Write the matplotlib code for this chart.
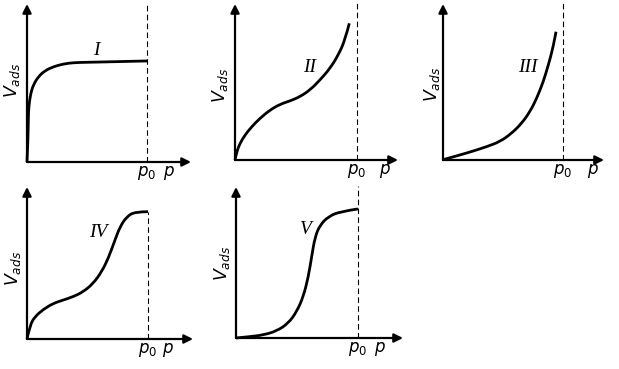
import matplotlib
matplotlib.use("Agg")
import matplotlib.pyplot as plt
from matplotlib.path import Path
from matplotlib.patches import PathPatch

plt.rcParams['mathtext.fontset'] = 'dejavusans'

W, H = 619, 369

# curve data: p / p0 and adsorbed volume (relative units)
p_I = [0, 0.008, 0.011, 0.014, 0.031, 0.053, 0.094, 0.15, 0.219, 0.303, 0.386, 0.497, 0.608, 1.0]
v_I = [0, 0.183, 0.35, 0.458, 0.573, 0.642, 0.711, 0.761, 0.794, 0.817, 0.828, 0.831, 0.833, 0.842]

p_II = [0, 0.014, 0.041, 0.082, 0.137, 0.205, 0.287, 0.369, 0.451, 0.533, 0.615, 0.697, 0.779, 0.847, 0.902, 0.937]
v_II = [0, 0.068, 0.137, 0.205, 0.273, 0.342, 0.410, 0.457, 0.484, 0.519, 0.574, 0.656, 0.751, 0.861, 0.984, 1.120]

p_III = [0.01, 0.142, 0.253, 0.364, 0.475, 0.573, 0.656, 0.725, 0.781, 0.836, 0.878, 0.919, 0.942]
v_III = [0.005, 0.042, 0.075, 0.111, 0.153, 0.223, 0.306, 0.403, 0.514, 0.653, 0.792, 0.944, 1.069]

p_IV = [0, 0.025, 0.066, 0.135, 0.218, 0.300, 0.383, 0.466, 0.548, 0.617, 0.672, 0.727, 0.769, 0.824, 0.893, 1.0]
v_IV = [0, 0.116, 0.185, 0.245, 0.295, 0.322, 0.350, 0.391, 0.460, 0.556, 0.667, 0.818, 0.928, 1.011, 1.052, 1.052]

p_V = [0, 0.115, 0.224, 0.333, 0.428, 0.497, 0.552, 0.593, 0.620, 0.648, 0.689, 0.757, 0.852, 1.0]
v_V = [0, 0.011, 0.025, 0.057, 0.120, 0.215, 0.339, 0.502, 0.666, 0.830, 0.926, 0.995, 1.036, 1.058]

labels = ['I', 'II', 'III', 'IV', 'V']
curves = [(p_I, v_I), (p_II, v_II), (p_III, v_III), (p_IV, v_IV), (p_V, v_V)]

# panel geometry in pixels: origin x, origin y, p0 x, arrow right, arrow top
panels = [
    (27, 162, 147, 191, 4),
    (235, 160, 357, 398, 4),
    (443, 160, 563, 604, 4),
    (27, 339, 148, 193, 187),
    (236, 338, 358, 403, 187),
]
num_pos = [(0.575, 0.93), (0.615, 0.76), (0.71, 0.77), (0.59, 0.88), (0.57, 0.89)]
vads_x = [-15, -15, -11, -14, -14]
vads_y = [0.68, 0.61, 0.63, 0.58, 0.61]
p_dx = [22, 28, 30, 20, 22]
dash_to_curve = [False, False, False, True, False]


def smooth(x, y):
    # quadratic bezier through midpoints of the read points
    pts = list(zip(x, y))
    verts = [pts[0]]
    codes = [Path.MOVETO]
    for k in range(1, len(pts) - 1):
        if k == len(pts) - 2:
            end = pts[-1]
        else:
            end = ((pts[k][0] + pts[k + 1][0]) / 2, (pts[k][1] + pts[k + 1][1]) / 2)
        verts += [pts[k], end]
        codes += [Path.CURVE3, Path.CURVE3]
    return Path(verts, codes)


fig = plt.figure(figsize=(W / 100, H / 100), dpi=100)

for i, (ox, oy, px0, right, top) in enumerate(panels):
    u = px0 - ox
    xmax, ymax = (right - ox) / u, (oy - top) / u
    ax = fig.add_axes([ox / W, (H - oy) / H, (right - ox) / W, (oy - top) / H])
    ax.set_xlim(0, xmax)
    ax.set_ylim(0, ymax)
    ax.axis('off')

    # axes with arrow heads
    for tip in [(xmax, 0), (0, ymax)]:
        ax.annotate('', xy=tip, xytext=(0, 0), annotation_clip=False,
                    arrowprops=dict(arrowstyle='-|>', color='black', lw=1.6,
                                    mutation_scale=13, shrinkA=0, shrinkB=0))

    p, v = curves[i]
    ax.add_patch(PathPatch(smooth(p, v), facecolor='none', edgecolor='black',
                           lw=2.0, capstyle='butt', clip_on=False))

    ytop = v[-1] if dash_to_curve[i] else ymax + 0.01
    ax.plot([1, 1], [0, ytop], color='black', lw=0.8, ls=(0, (5, 3)), clip_on=False)

    ax.text(num_pos[i][0], num_pos[i][1], labels[i], fontsize=14, style='italic',
            family='Liberation Serif', ha='center', va='center')
    ax.text(vads_x[i] / u, vads_y[i], r'$V_{ads}$', fontsize=12.5, rotation=90,
            ha='center', va='center')
    ax.text(1, -11 / u, r'$p_0$', fontsize=12, ha='center', va='center')
    ax.text(1 + p_dx[i] / u, -11 / u, r'$p$', fontsize=12, ha='center', va='center')

fig.savefig('out.png', dpi=100)
